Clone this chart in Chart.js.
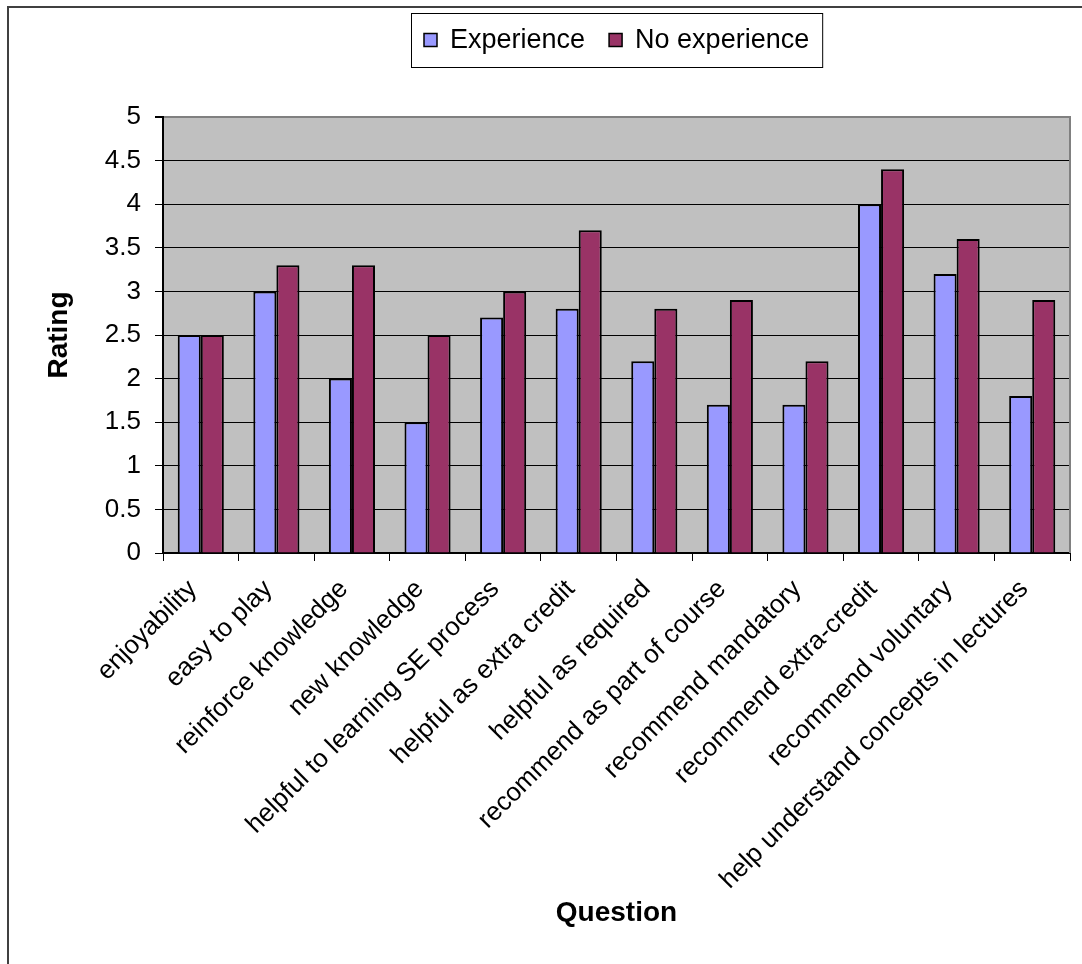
<!DOCTYPE html>
<html>
<head>
<meta charset="utf-8">
<script src="https://cdn.jsdelivr.net/npm/chart.js@4.4.1/dist/chart.umd.min.js"></script>
<style>
html,body{margin:0;padding:0;background:#fff;}
#wrap{position:relative;width:1082px;height:964px;}
canvas{display:block;}
</style>
</head>
<body>
<div id="wrap"><canvas id="c" width="1082" height="964"></canvas></div>
<script>
const categories = [
  'enjoyability',
  'easy to play',
  'reinforce knowledge',
  'new knowledge',
  'helpful to learning SE process',
  'helpful as extra credit',
  'helpful as required',
  'recommend as part of course',
  'recommend mandatory',
  'recommend extra-credit',
  'recommend voluntary',
  'help understand concepts in lectures'
];
const seriesLabels = ['Experience', 'No experience'];
const experience   = [2.5, 3.0, 2.0, 1.5, 2.7, 2.8, 2.2, 1.7, 1.7, 4.0, 3.2, 1.8];
const noExperience = [2.5, 3.3, 3.3, 2.5, 3.0, 3.7, 2.8, 2.9, 2.2, 4.4, 3.6, 2.9];
const yTickLabels  = ['0', '0.5', '1', '1.5', '2', '2.5', '3', '3.5', '4', '4.5', '5'];
const seriesColors = ['#9999FF', '#993366'];

const FONT = '"Liberation Sans", Arial, sans-serif';

const decor = {
  id: 'decor',
  beforeDraw(chart) {
    const {ctx, chartArea: a} = chart;
    ctx.save();
    ctx.fillStyle = '#ffffff';
    ctx.fillRect(0, 0, chart.width, chart.height);
    ctx.fillStyle = '#C0C0C0';
    ctx.fillRect(a.left, a.top, a.right - a.left, a.bottom - a.top);
    ctx.restore();
  },
  beforeDatasetsDraw(chart) {
    const {ctx, chartArea: a} = chart;
    ctx.save();
    ctx.strokeStyle = '#808080';
    ctx.lineWidth = 2;
    ctx.beginPath();
    ctx.moveTo(a.right, a.top - 1);
    ctx.lineTo(a.right, a.bottom);
    ctx.stroke();
    ctx.restore();
  },
  afterDraw(chart) {
    const {ctx, chartArea: a} = chart;
    ctx.save();
    // outer frame (left and top edges visible)
    ctx.strokeStyle = '#404040';
    ctx.lineWidth = 2;
    ctx.beginPath();
    ctx.moveTo(8, chart.height);
    ctx.lineTo(8, 7);
    ctx.lineTo(chart.width, 7);
    ctx.stroke();

    // legend
    ctx.font = '27px ' + FONT;
    const pad = 13, sq = 13, gap = 13, itemGap = 24;
    const ds = chart.data.datasets;
    const widths = ds.map(d => ctx.measureText(d.label).width);
    let total = pad * 2;
    widths.forEach((w, i) => { total += sq + gap + w + (i > 0 ? itemGap : 0); });
    const cx = (a.left + a.right) / 2;
    const left = Math.round(cx - total / 2);
    const top = 13, h = 54, cy = top + h / 2;
    ctx.fillStyle = '#fff';
    ctx.fillRect(left, top, total, h);
    ctx.strokeStyle = '#000';
    ctx.lineWidth = 1;
    ctx.strokeRect(left + 0.5, top + 0.5, total, h);
    let x = left + pad;
    ds.forEach((d, i) => {
      if (i > 0) x += itemGap;
      ctx.fillStyle = d.backgroundColor;
      ctx.fillRect(x, cy - sq / 2, sq, sq);
      ctx.strokeStyle = '#000';
      ctx.lineWidth = 1.5;
      ctx.strokeRect(x, cy - sq / 2, sq, sq);
      x += sq + gap;
      ctx.fillStyle = '#000';
      ctx.textBaseline = 'middle';
      ctx.textAlign = 'left';
      ctx.fillText(d.label, x, cy + 1);
      x += widths[i];
    });
    ctx.restore();
  }
};

new Chart(document.getElementById('c'), {
  type: 'bar',
  data: {
    labels: categories,
    datasets: [
      {label: seriesLabels[0], data: experience, backgroundColor: seriesColors[0], borderColor: '#000', borderWidth: 2},
      {label: seriesLabels[1], data: noExperience, backgroundColor: seriesColors[1], borderColor: '#000', borderWidth: 2}
    ]
  },
  options: {
    responsive: false,
    animation: false,
    devicePixelRatio: 1,
    layout: {padding: {top: 117, left: 0, right: 12, bottom: 0}},
    datasets: {bar: {categoryPercentage: 0.61, barPercentage: 1.0}},
    plugins: {legend: {display: false}, tooltip: {enabled: false}},
    scales: {
      x: {
        offset: true,
        grid: {display: true, drawOnChartArea: false, drawTicks: true, tickLength: 8, tickColor: '#000', offset: true},
        border: {display: true, color: '#000', width: 2},
        ticks: {
          minRotation: 45, maxRotation: 45, autoSkip: false,
          color: '#000', padding: 13, labelOffset: -8,
          font: {family: FONT, size: 26}
        },
        title: {
          display: true, text: 'Question', color: '#000',
          font: {family: FONT, size: 28, weight: 'bold'},
          padding: {top: 0, bottom: 34}
        },
        afterFit(scale) { scale.height = 411; }
      },
      y: {
        min: 0, max: 5,
        grid: {
          color: c => (c.tick && c.tick.value === 5 ? '#808080' : '#000'),
          lineWidth: c => (c.tick && c.tick.value === 5 ? 2 : 1),
          tickColor: '#000', tickLength: 8, drawTicks: true
        },
        border: {display: true, color: '#000', width: 2},
        ticks: {
          stepSize: 0.5, color: '#000', padding: 14,
          font: {family: FONT, size: 26},
          callback: (v, i) => yTickLabels[i]
        },
        title: {
          display: true, text: 'Rating', color: '#000',
          font: {family: FONT, size: 28, weight: 'bold'},
          padding: {top: 42, bottom: 0}
        },
        afterFit(scale) { scale.width = 163; }
      }
    }
  },
  plugins: [decor]
});
</script>
</body>
</html>
